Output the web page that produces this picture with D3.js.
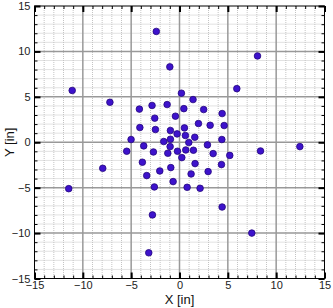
<!DOCTYPE html>
<meta charset="utf-8">
<style>
    body { margin: 0; background: #fff; }
    text { font-family: "Liberation Sans", Arial, sans-serif; }
</style>
<body>
    <svg width="333" height="308"></svg>
</body>
<script src="https://cdnjs.cloudflare.com/ajax/libs/d3/7.8.5/d3.min.js"></script>
<script>

    // data (inches)
    var xValues = [-11.1, -7.2, -2.4, -1.0, 0.2, 1.4, -4.15, -2.84, -1.28, 0.45,
                   2.5, 8.07, 5.93, 4.41, -2.56, -0.42, -4.1, -2.49, 1.96, 3.17,
                   0.51, -0.94, -0.25, 0.61, 1.58, 4.38, -5.01, -1.63, -0.94, 0.96,
                   2.89, -5.46, -3.7, -0.97, -2.7, -1.21, -0.21, 0.65, 1.44, 3.48,
                   5.2, 0.24, -3.84, 1.61, 4.34, -2.04, -0.9, 2.96, -3.39, 1.2,
                   -0.66, -2.6, 0.79, 2.13, 4.41, 4.62, 8.38, 12.45, -7.94, -11.46,
                   -2.8, -3.18, 7.48];
    var yValues = [5.7, 4.4, 12.2, 8.3, 5.4, 4.7, 3.65, 4.05, 4.15, 3.7,
                   3.6, 9.5, 5.9, 3.16, 2.65, 2.87, 1.62, 1.4, 2.06, 1.87,
                   1.58, 1.29, 0.92, 0.74, 0.55, 0.3, 0.3, 0.08, 0.33, -0.03,
                   -0.29, -0.99, -0.4, -0.48, -1.07, -1.21, -0.99, -0.85, -0.88, -1.25,
                   -1.45, -1.69, -2.2, -2.35, -2.46, -3.16, -2.79, -3.23, -3.67, -3.49,
                   -4.33, -4.92, -4.96, -5.07, -7.13, 1.84, -0.96, -0.48, -2.87, -5.11,
                   -8.0, -12.17, -10.0];
    var majorTicks = [-15, -10, -5, 0, 5, 10, 15];
    var minorTicks = d3.range(-15, 16, 1);

    var svg = d3.select("svg"),
        margin = {top: 6, right: 8.5, bottom: 29.5, left: 34.5},
        width = +svg.attr("width") - margin.left - margin.right,
        height = +svg.attr("height") - margin.top - margin.bottom;

    var g = svg.append("g")
        .attr("transform", "translate(" + margin.left + "," + margin.top + ")");

    var x = d3.scaleLinear().domain([-15, 15]).range([0, width]);
    var y = d3.scaleLinear().domain([-15, 15]).range([height, 0]);

    //minor grid, dotted
    g.append("g").selectAll("line.vminor")
        .data(minorTicks.filter(d => d % 5 != 0))
        .enter().append("line")
        .attr("x1", d => x(d)).attr("x2", d => x(d))
        .attr("y1", 0).attr("y2", height)
        .style("stroke", "#c4c4c4").style("stroke-width", 1)
        .style("stroke-dasharray", "1,1");

    g.append("g").selectAll("line.hminor")
        .data(minorTicks.filter(d => d % 5 != 0))
        .enter().append("line")
        .attr("x1", 0).attr("x2", width)
        .attr("y1", d => y(d)).attr("y2", d => y(d))
        .style("stroke", "#c4c4c4").style("stroke-width", 1)
        .style("stroke-dasharray", "1,1");

    //major grid
    g.append("g").selectAll("line")
        .data(majorTicks.slice(1, -1))
        .enter().append("line")
        .attr("x1", d => x(d)).attr("x2", d => x(d))
        .attr("y1", 0).attr("y2", height)
        .style("stroke", "#999").style("stroke-width", 1.5);

    g.append("g").selectAll("line")
        .data(majorTicks.slice(1, -1))
        .enter().append("line")
        .attr("x1", 0).attr("x2", width)
        .attr("y1", d => y(d)).attr("y2", d => y(d))
        .style("stroke", "#999").style("stroke-width", 1.5);

    //axes with inner ticks on all four sides
    function styleAxis(sel) {
        sel.select(".domain").remove();
        sel.selectAll("text")
            .style("font-family", "'Liberation Sans', Arial, sans-serif")
            .style("font-size", "11px")
            .style("fill", "#222");
        sel.selectAll(".tick line").style("stroke", "#000").style("stroke-width", 2);
    }

    var xAxis = g.append("g")
        .attr("transform", "translate(0," + height + ")")
        .call(d3.axisBottom(x).tickValues(majorTicks).tickSize(-6).tickPadding(2.5))
        .call(styleAxis);

    var yAxis = g.append("g")
        .call(d3.axisLeft(y).tickValues(majorTicks).tickSize(-6).tickPadding(4))
        .call(styleAxis);

    g.append("g")
        .call(d3.axisTop(x).tickValues(majorTicks).tickSize(-6).tickFormat(""))
        .call(styleAxis);

    g.append("g")
        .attr("transform", "translate(" + width + ",0)")
        .call(d3.axisRight(y).tickValues(majorTicks).tickSize(-6).tickFormat(""))
        .call(styleAxis);

    //minor ticks
    function styleMinor(sel) {
        sel.select(".domain").remove();
        sel.selectAll(".tick line").style("stroke", "#000").style("stroke-width", 1);
    }
    g.append("g").attr("transform", "translate(0," + height + ")")
        .call(d3.axisBottom(x).tickValues(minorTicks).tickSize(-3).tickFormat("")).call(styleMinor);
    g.append("g")
        .call(d3.axisTop(x).tickValues(minorTicks).tickSize(-3).tickFormat("")).call(styleMinor);
    g.append("g")
        .call(d3.axisLeft(y).tickValues(minorTicks).tickSize(-3).tickFormat("")).call(styleMinor);
    g.append("g").attr("transform", "translate(" + width + ",0)")
        .call(d3.axisRight(y).tickValues(minorTicks).tickSize(-3).tickFormat("")).call(styleMinor);

    //frame
    g.append("rect")
        .attr("width", width).attr("height", height)
        .style("fill", "none").style("stroke", "#000").style("stroke-width", 1);

    //points
    var points = xValues.map((d, i) => ({x: d, y: yValues[i]}));
    g.append("g").selectAll("circle")
        .data(points)
        .enter().append("circle")
        .attr("cx", d => x(d.x))
        .attr("cy", d => y(d.y))
        .attr("r", 3.3)
        .style("fill", "#3d12cc")
        .style("stroke", "#24067e")
        .style("stroke-width", 0.8);

    //axis titles
    svg.append("text")
        .attr("x", margin.left + width / 2)
        .attr("y", 304)
        .attr("text-anchor", "middle")
        .style("font-size", "13px")
        .style("fill", "#111")
        .text("X [in]");

    svg.append("text")
        .attr("transform", "translate(14," + (margin.top + height / 2) + ") rotate(-90)")
        .attr("text-anchor", "middle")
        .style("font-size", "13px")
        .style("fill", "#111")
        .text("Y [in]");

</script>
